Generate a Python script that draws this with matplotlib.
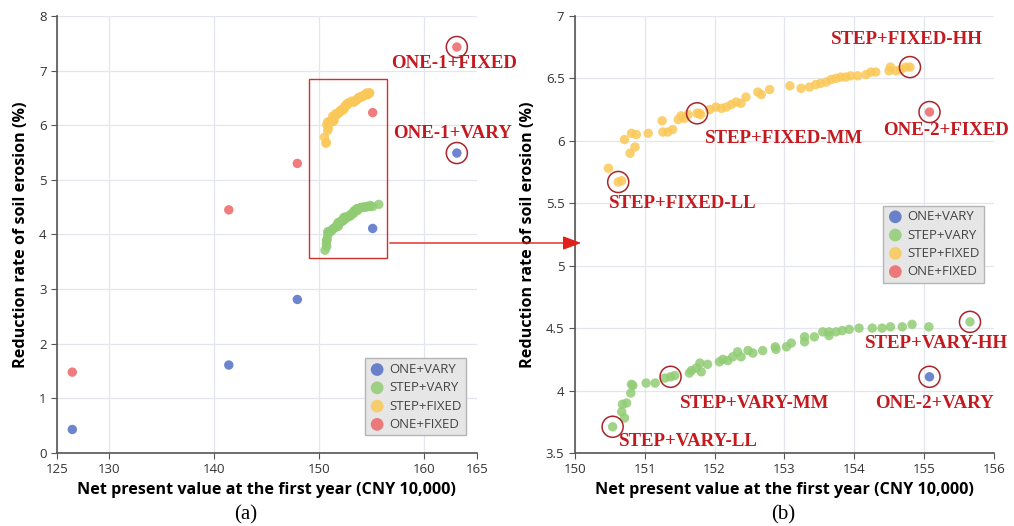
import matplotlib
matplotlib.use("Agg")
import matplotlib.pyplot as plt
from matplotlib.patches import Rectangle

plt.rcParams['font.family'] = ['Open Sans', 'DejaVu Sans']

# ---- data ----
one_x = [126.46, 141.37, 147.9, 155.08, 163.1]
one_vary_y = [0.43, 1.61, 2.81, 4.11, 5.49]
one_fixed_y = [1.48, 4.45, 5.30, 6.23, 7.43]

step_fixed_x = [150.48, 150.62, 150.67, 150.71, 150.81, 150.88, 151.05, 150.79, 150.86, 151.25,
                151.26, 151.33, 151.40, 151.48, 151.52, 151.57, 151.62, 151.75, 151.78, 151.80,
                151.93, 152.02, 152.10, 152.17, 152.24, 152.31, 152.38, 152.45, 152.62, 152.67,
                152.79, 153.08, 153.24, 153.36, 153.45, 153.52, 153.60, 153.67, 153.74, 153.81,
                153.88, 153.95, 154.05, 154.17, 154.24, 154.31, 154.50, 154.52, 154.60, 154.67,
                154.74, 154.80]
step_fixed_y = [5.78, 5.67, 5.68, 6.01, 6.06, 6.05, 6.06, 5.90, 5.95, 6.16,
                6.07, 6.07, 6.09, 6.17, 6.20, 6.18, 6.21, 6.22, 6.22, 6.21,
                6.25, 6.27, 6.26, 6.27, 6.29, 6.31, 6.30, 6.35, 6.39, 6.37,
                6.41, 6.44, 6.42, 6.43, 6.45, 6.46, 6.47, 6.49, 6.50, 6.51,
                6.51, 6.52, 6.52, 6.53, 6.55, 6.55, 6.56, 6.59, 6.56, 6.57,
                6.59, 6.59]

step_vary_x = [150.54, 150.67, 150.71, 150.68, 150.74, 150.80, 150.81, 150.83, 151.02, 151.15,
               151.29, 151.37, 151.43, 151.64, 151.67, 151.74, 151.79, 151.81, 151.90, 152.07,
               152.12, 152.19, 152.26, 152.33, 152.38, 152.48, 152.55, 152.69, 152.87, 152.88,
               153.03, 153.10, 153.29, 153.29, 153.43, 153.55, 153.64, 153.64, 153.74, 153.83,
               153.93, 154.07, 154.26, 154.40, 154.52, 154.69, 154.83, 155.07, 155.66]
step_vary_y = [3.71, 3.83, 3.78, 3.89, 3.90, 3.98, 4.05, 4.04, 4.06, 4.06,
               4.10, 4.11, 4.12, 4.14, 4.16, 4.18, 4.22, 4.15, 4.21, 4.23,
               4.25, 4.24, 4.27, 4.31, 4.27, 4.32, 4.30, 4.32, 4.35, 4.33,
               4.35, 4.38, 4.43, 4.39, 4.43, 4.47, 4.47, 4.44, 4.47, 4.48,
               4.49, 4.50, 4.50, 4.50, 4.51, 4.51, 4.53, 4.51, 4.55]

series_names = ['ONE+VARY', 'STEP+VARY', 'STEP+FIXED', 'ONE+FIXED']
colors = ['#5470c6', '#91cc75', '#fac858', '#ee6666']

# highlighted points (x, y) and their labels with label position
left_marks = [(one_x[4], one_fixed_y[4]), (one_x[4], one_vary_y[4])]
left_labels = [('ONE-1+FIXED', 162.79, 7.12), ('ONE-1+VARY', 162.69, 5.84)]

right_marks = [(step_fixed_x[1], step_fixed_y[1]), (step_fixed_x[17], step_fixed_y[17]),
               (step_fixed_x[-1], step_fixed_y[-1]), (one_x[3], one_fixed_y[3]),
               (step_vary_x[0], step_vary_y[0]), (step_vary_x[11], step_vary_y[11]),
               (step_vary_x[-1], step_vary_y[-1]), (one_x[3], one_vary_y[3])]
right_labels = [('STEP+FIXED-HH', 154.76, 6.81), ('STEP+FIXED-MM', 152.99, 6.02),
                ('ONE-2+FIXED', 155.32, 6.08), ('STEP+FIXED-LL', 151.55, 5.50),
                ('STEP+VARY-HH', 155.18, 4.38), ('ONE-2+VARY', 155.15, 3.90),
                ('STEP+VARY-MM', 152.58, 3.90), ('STEP+VARY-LL', 151.62, 3.59)]

fig = plt.figure(figsize=(10.14, 5.26), dpi=100)
ax1 = fig.add_axes([0.0562, 0.1388, 0.414, 0.831])
ax2 = fig.add_axes([0.567, 0.1388, 0.413, 0.831])

red_txt = '#c41a1f'
ring = '#a8262c'
lab_size = 13.6


def draw_series(ax):
    xs = [one_x, step_vary_x, step_fixed_x, one_x]
    ys = [one_vary_y, step_vary_y, step_fixed_y, one_fixed_y]
    for x, y, c, n in zip(xs, ys, colors, series_names):
        ax.scatter(x, y, s=46, color=c, alpha=0.85, edgecolors='none', label=n, zorder=3)


def style_axes(ax):
    for s in ['top', 'right']:
        ax.spines[s].set_visible(False)
    for s in ['left', 'bottom']:
        ax.spines[s].set_color('#555555')
        ax.spines[s].set_linewidth(1.2)
    ax.grid(True, color='#e3e6ee', linewidth=0.9, zorder=0)
    ax.set_axisbelow(True)
    ax.tick_params(labelsize=9.5, colors='#555555', labelcolor='#333333', length=4)
    ax.set_xlabel('Net present value at the first year (CNY 10,000)', fontsize=11.6,
                  fontweight='bold', labelpad=4)
    ax.set_ylabel('Reduction rate of soil erosion (%)', fontsize=11.6, fontweight='bold',
                  labelpad=7)
    leg_kw = dict(fontsize=9.5, frameon=True, fancybox=False, framealpha=1,
                  facecolor='#e6e6e6', edgecolor='#b5b5b5', handletextpad=0.3,
                  borderpad=0.35, labelspacing=0.4, markerscale=1.35, handlelength=1.2)
    return leg_kw


draw_series(ax1)
kw = style_axes(ax1)
ax1.set_xlim(125, 165)
ax1.set_ylim(0, 8)
ax1.set_xticks([125, 130, 140, 150, 160, 165])
ax1.set_yticks(range(0, 9))
ax1.get_xgridlines()[-1].set_visible(False)
leg = ax1.legend(loc='lower right', bbox_to_anchor=(0.99, 0.025), **kw)
for t in leg.get_texts():
    t.set_color('#444444')
ax1.add_patch(Rectangle((149.0, 3.57), 7.4, 3.28, fill=False, edgecolor='#d0312d',
                        linewidth=1.0, zorder=4, clip_on=False))
for (mx, my) in left_marks:
    ax1.scatter(mx, my, s=230, facecolors='none', edgecolors=ring, linewidths=1.1,
                zorder=5, clip_on=False)
for (t, tx, ty) in left_labels:
    ax1.text(tx, ty, t, color=red_txt, fontsize=lab_size, fontweight='bold',
             family='Liberation Serif', ha='center', va='center')

draw_series(ax2)
kw = style_axes(ax2)
ax2.set_xlim(150, 156)
ax2.set_ylim(3.5, 7)
ax2.set_xticks(range(150, 157))
ax2.set_yticks([3.5, 4, 4.5, 5, 5.5, 6, 6.5, 7])
ax2.set_yticklabels(['3.5', '4', '4.5', '5', '5.5', '6', '6.5', '7'])
ax2.get_xgridlines()[-1].set_visible(False)
leg = ax2.legend(loc='upper right', bbox_to_anchor=(0.993, 0.581), **kw)
for t in leg.get_texts():
    t.set_color('#444444')
for (mx, my) in right_marks:
    ax2.scatter(mx, my, s=230, facecolors='none', edgecolors=ring, linewidths=1.1,
                zorder=5, clip_on=False)
for (t, tx, ty) in right_labels:
    ax2.text(tx, ty, t, color=red_txt, fontsize=lab_size, fontweight='bold',
             family='Liberation Serif', ha='center', va='center')

# connector arrow from the zoom box to panel (b)
fig.add_artist(matplotlib.patches.FancyArrowPatch(
    (387 / 1014, 1 - 243 / 526), (584 / 1014, 1 - 243 / 526), transform=fig.transFigure,
    arrowstyle='-|>,head_length=0.8,head_width=0.3', color='#e0201b', linewidth=1.0,
    mutation_scale=14))

fig.text(246 / 1014, 1 - 515 / 526, '(a)', family='Liberation Serif', fontsize=15,
         ha='center', va='center')
fig.text(783 / 1014, 1 - 515 / 526, '(b)', family='Liberation Serif', fontsize=15,
         ha='center', va='center')

fig.savefig('out.png', dpi=100)
